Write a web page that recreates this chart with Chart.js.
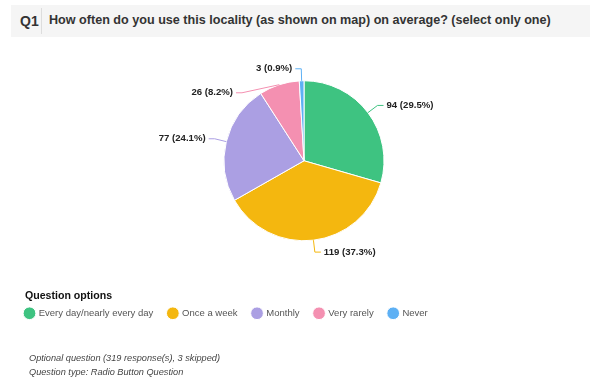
<!DOCTYPE html>
<html>
<head>
<meta charset="utf-8">
<script src="https://cdn.jsdelivr.net/npm/chart.js@4/dist/chart.umd.min.js"></script>
<style>
  html, body { margin: 0; padding: 0; background: #fff; }
  body { width: 602px; height: 379px; position: relative; overflow: hidden; font-family: "Liberation Sans", Arial, Helvetica, sans-serif; }
  #hdr { position: absolute; left: 11px; top: 5px; width: 579px; height: 32px; background: #f5f5f5; }
  #qnum { position: absolute; left: 9px; top: 8px; font-size: 14px; font-weight: bold; color: #333; }
  #sep { position: absolute; left: 30px; top: 3px; width: 1px; height: 26px; background: #ddd; }
  #qtitle { position: absolute; left: 38px; top: 8px; font-size: 12.6px; font-weight: bold; color: #333; white-space: nowrap; }
  #wrap { position: absolute; left: 0; top: 0; width: 602px; height: 379px; }
  .foot { position: absolute; left: 29px; font-size: 9.2px; font-style: italic; color: #444; white-space: nowrap; }
</style>
</head>
<body>
<div id="hdr"><div id="qnum">Q1</div><div id="sep"></div><div id="qtitle">How often do you use this locality (as shown on map) on average? (select only one)</div></div>
<div id="wrap"><canvas id="c" width="602" height="379"></canvas></div>
<div class="foot" style="top:353px">Optional question (319 response(s), 3 skipped)</div>
<div class="foot" style="top:367px">Question type: Radio Button Question</div>
<script>
const categories = ["Every day/nearly every day", "Once a week", "Monthly", "Very rarely", "Never"];
const counts = [94, 119, 77, 26, 3];
const sliceColors = ["#3ec381", "#f4b70f", "#ab9fe3", "#f490b1", "#5db0f4"];
const legendHeading = "Question options";

const total = counts.reduce((a, b) => a + b, 0);
const labelTexts = counts.map(v => v + " (" + (v / total * 100).toFixed(1) + "%)");

const FONT = '"Liberation Sans", Arial, Helvetica, sans-serif';

const pieLabels = {
  id: 'pieLabels',
  afterDatasetsDraw(chart) {
    const meta = chart.getDatasetMeta(0);
    const ctx = chart.ctx;
    const items = meta.data.map((arc, i) => {
      const p = arc.getProps(['x', 'y', 'startAngle', 'endAngle', 'outerRadius'], true);
      const mid = (p.startAngle + p.endAngle) / 2;
      const c = Math.cos(mid), s = Math.sin(mid);
      const R = p.outerRadius + 12;
      return {
        i, cx: p.x, cy: p.y, R,
        ex: p.x + c * p.outerRadius, ey: p.y + s * p.outerRadius,
        y: p.y + s * R, right: c >= 0
      };
    });
    const gap = 24;
    [true, false].forEach(side => {
      const list = items.filter(it => it.right === side).sort((a, b) => a.y - b.y);
      for (let k = 1; k < list.length; k++) {
        if (list[k].y < list[k - 1].y + gap) list[k].y = list[k - 1].y + gap;
      }
    });
    ctx.save();
    ctx.font = 'bold 9.6px ' + FONT;
    ctx.textBaseline = 'middle';
    items.forEach(it => {
      const dy = it.y - it.cy;
      const dx = Math.sqrt(Math.max(it.R * it.R - dy * dy, 0));
      const sign = it.right ? 1 : -1;
      const lx = it.cx + sign * dx;
      const hx = lx + sign * 6;
      ctx.strokeStyle = sliceColors[it.i];
      ctx.lineWidth = 1;
      ctx.beginPath();
      ctx.moveTo(it.ex, it.ey);
      ctx.lineTo(lx, it.y);
      ctx.lineTo(hx, it.y);
      ctx.stroke();
      ctx.fillStyle = '#222';
      ctx.textAlign = it.right ? 'left' : 'right';
      ctx.fillText(labelTexts[it.i], hx + sign * 3, it.y);
    });
    ctx.restore();
  }
};

const legendHead = {
  id: 'legendHead',
  afterDraw(chart) {
    const lg = chart.legend;
    if (!lg) return;
    const pad = lg.options.labels.padding;
    const ctx = chart.ctx;
    ctx.save();
    ctx.font = 'bold 10.6px ' + FONT;
    ctx.fillStyle = '#111';
    ctx.textAlign = 'left';
    ctx.textBaseline = 'middle';
    ctx.fillText(legendHeading, lg.left + pad, lg.top + 2.5);
    ctx.restore();
  }
};

new Chart(document.getElementById('c'), {
  type: 'pie',
  data: {
    labels: categories,
    datasets: [{
      data: counts,
      backgroundColor: sliceColors,
      borderColor: '#fff',
      borderWidth: 1,
      radius: 80
    }]
  },
  options: {
    responsive: false,
    animation: false,
    layout: { padding: { left: 10, right: 4, top: 28, bottom: 51 } },
    plugins: {
      tooltip: { enabled: false },
      legend: {
        position: 'bottom',
        align: 'start',
        labels: {
          usePointStyle: true,
          pointStyle: 'circle',
          boxWidth: 9,
          boxHeight: 9,
          padding: 15,
          color: '#555',
          font: { size: 9.5, family: FONT }
        }
      }
    }
  },
  plugins: [pieLabels, legendHead]
});
</script>
</body>
</html>
